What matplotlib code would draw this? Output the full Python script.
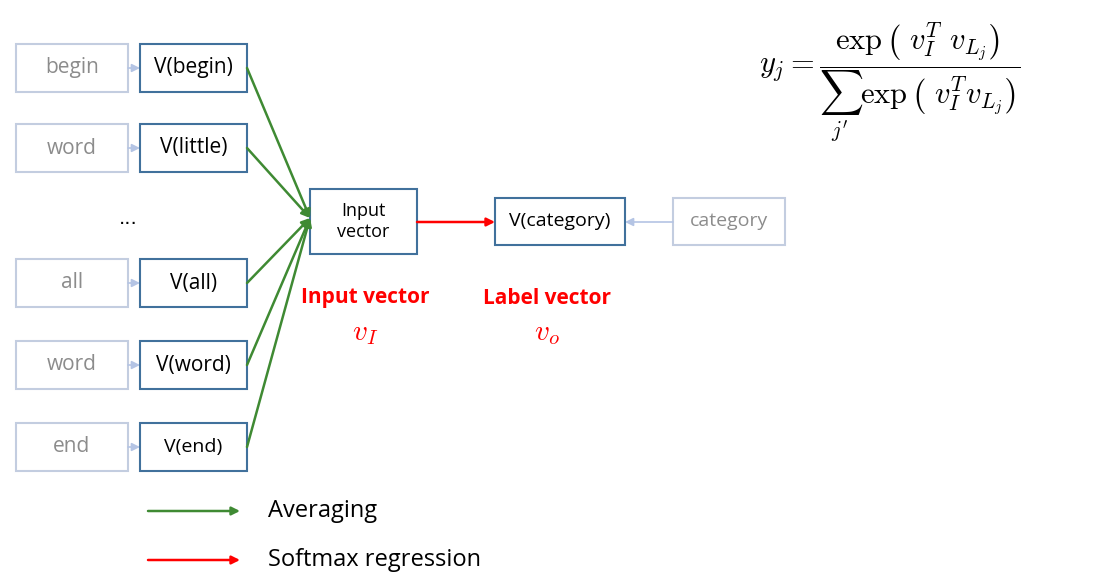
import matplotlib
matplotlib.use("Agg")
import matplotlib.pyplot as plt
from matplotlib.patches import Rectangle

# labels of the diagram
word_labels = ["begin", "word", "all", "word", "end"]
vec_labels = ["V(begin)", "V(little)", "V(all)", "V(word)", "V(end)"]
legend_labels = ["Averaging", "Softmax regression"]

row_y = [68, 148, 283, 365, 447]  # row centres in pixels
green = "#3f8a33"
red = "#ff0000"
grey_edge = "#c3cde0"
blue_edge = "#41719c"
light_arrow = "#b4c4e4"

plt.rcParams["mathtext.fontset"] = "cm"
fig = plt.figure(figsize=(11.01, 5.79), dpi=100)
ax = fig.add_axes([0, 0, 1, 1])
ax.set_xlim(0, 1101)
ax.set_ylim(579, 0)
ax.axis("off")

def box(x0, y0, x1, y1, text, edge, color, size=15):
    ax.add_patch(Rectangle((x0, y0), x1 - x0, y1 - y0, fill=False, ec=edge, lw=1.5))
    ax.text((x0 + x1) / 2, (y0 + y1) / 2, text, ha="center", va="center",
            fontsize=size, color=color, family="Open Sans")

def arrow(x0, y0, x1, y1, c, lw=1.8):
    ax.annotate("", xy=(x1, y1), xytext=(x0, y0),
                arrowprops=dict(arrowstyle="-|>", color=c, lw=lw, mutation_scale=12,
                                shrinkA=0, shrinkB=0))

for w, v, y in zip(word_labels, vec_labels, row_y):
    box(16, y - 24, 128, y + 24, w, grey_edge, "#8c8c8c")
    box(140, y - 24, 247, y + 24, v, blue_edge, "black", 14 if v == "V(end)" else 15)
    arrow(128, y, 140, y, light_arrow, 1.2)
    arrow(247, y, 310, 218, green)

ax.text(128, 218, "...", ha="center", va="center", fontsize=14)

box(310, 189, 417, 254, "Input\nvector", blue_edge, "black", 13)
box(495, 198, 625, 245, "V(category)", blue_edge, "black", 14)
box(673, 198, 785, 245, "category", grey_edge, "#8c8c8c", 14)
arrow(417, 222, 495, 222, red)
arrow(673, 222, 625, 222, light_arrow, 1.2)

ax.text(365, 298, "Input vector", ha="center", va="center", color=red,
        fontsize=15, fontweight="bold", family="Open Sans")
ax.text(365, 333, r"$v_I$", ha="center", va="center", color=red, fontsize=21)
ax.text(547, 298, "Label vector", ha="center", va="center", color=red,
        fontsize=15, fontweight="bold", family="Open Sans")
ax.text(547, 333, r"$v_o$", ha="center", va="center", color=red, fontsize=21)

ax.text(890, 82, r"$y_j = \dfrac{\exp\left(\ v_I^T\ v_{L_j}\right)}{\sum_{j^\prime}\exp\left(\ v_I^T v_{L_j}\right)}$",
        ha="center", va="center", fontsize=22)

for lab, c, y in zip(legend_labels, [green, red], [511, 560]):
    arrow(148, y, 240, y, c)
    ax.text(268, y, lab, ha="left", va="center", fontsize=17, family="Open Sans")

fig.savefig("out.png", dpi=100)
